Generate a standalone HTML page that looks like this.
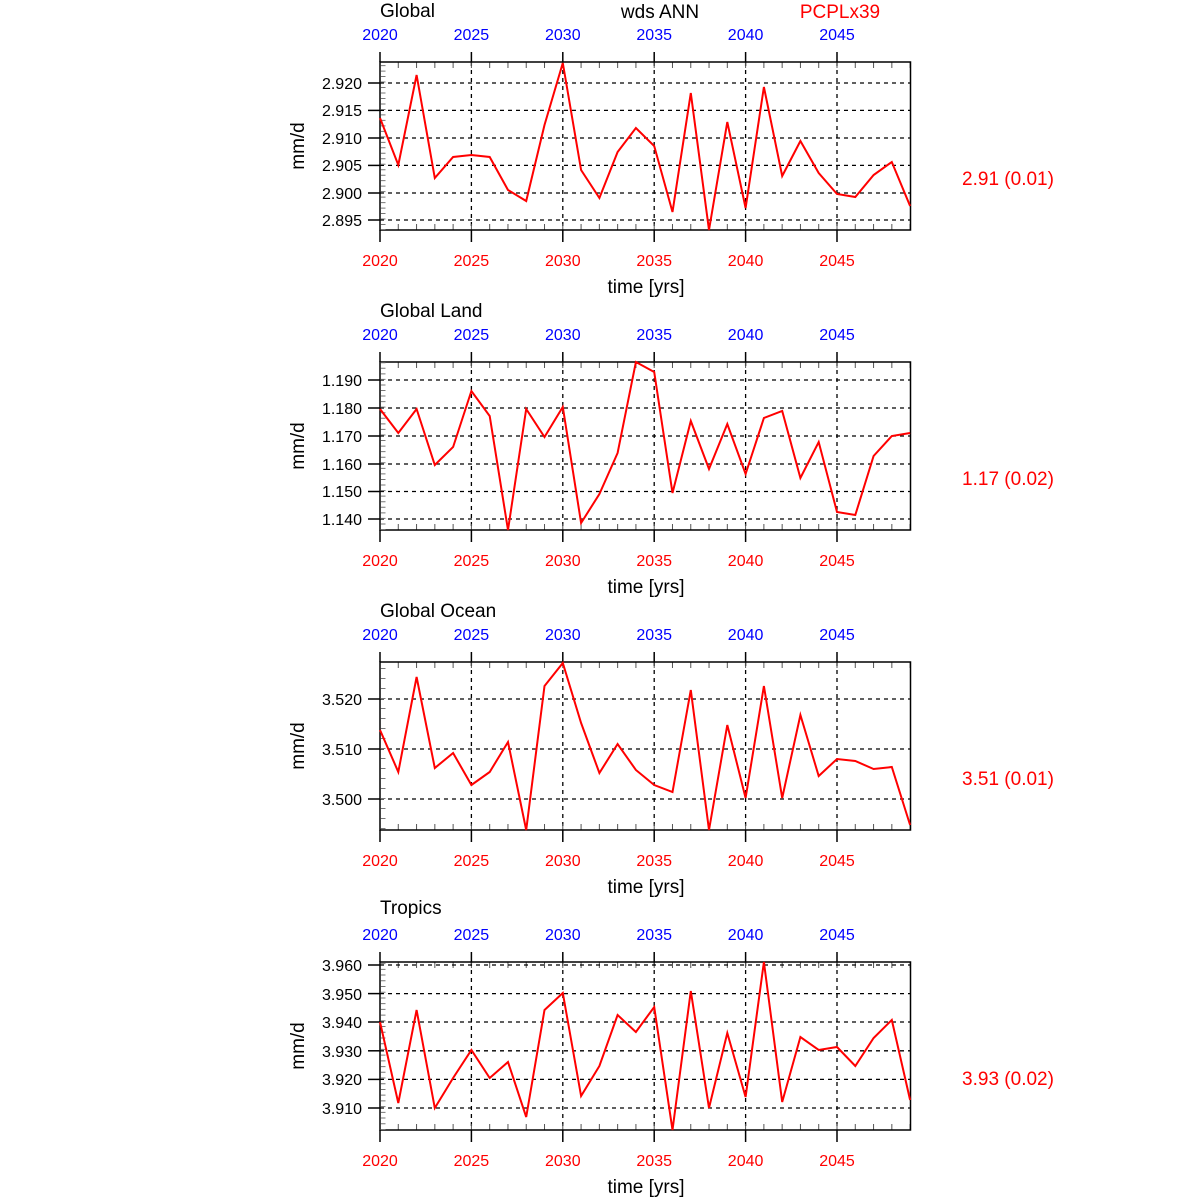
<!DOCTYPE html>
<html><head><style>body{margin:0;background:#fff}svg{display:block}text{font-family:"Liberation Sans",Arial,sans-serif}</style></head>
<body>
<svg width="1200" height="1200" viewBox="0 0 1200 1200" xmlns="http://www.w3.org/2000/svg">
<defs>
<g id="frame">
 <g stroke="#000" stroke-width="1.3" stroke-dasharray="4 4" fill="none">
  <line x1="471.4" y1="62" x2="471.4" y2="230"/><line x1="562.8" y1="62" x2="562.8" y2="230"/>
  <line x1="654.2" y1="62" x2="654.2" y2="230"/><line x1="745.6" y1="62" x2="745.6" y2="230"/>
  <line x1="837" y1="62" x2="837" y2="230"/>
 </g>
 <g stroke="#000" stroke-width="1.5">
  <line x1="380" y1="62" x2="380" y2="52"/><line x1="471.4" y1="62" x2="471.4" y2="52"/><line x1="562.8" y1="62" x2="562.8" y2="52"/><line x1="654.2" y1="62" x2="654.2" y2="52"/><line x1="745.6" y1="62" x2="745.6" y2="52"/><line x1="837" y1="62" x2="837" y2="52"/>
  <line x1="380" y1="230" x2="380" y2="242"/><line x1="471.4" y1="230" x2="471.4" y2="242"/><line x1="562.8" y1="230" x2="562.8" y2="242"/><line x1="654.2" y1="230" x2="654.2" y2="242"/><line x1="745.6" y1="230" x2="745.6" y2="242"/><line x1="837" y1="230" x2="837" y2="242"/>
 </g>
 <line x1="379.5" y1="65" x2="912" y2="65" stroke="#555" stroke-width="6" stroke-dasharray="1 17.28"/>
 <line x1="379.5" y1="227" x2="912" y2="227" stroke="#555" stroke-width="6" stroke-dasharray="1 17.28"/>
 <rect x="380" y="62" width="530.5" height="168" fill="none" stroke="#000" stroke-width="1.5"/>
</g>
</defs>
<g font-size="16" text-anchor="middle">
<text x="380" y="17" text-anchor="start" font-size="19">Global</text>
<text x="660" y="18" font-size="19">wds ANN</text>
<text x="840" y="18" font-size="19" fill="#f00">PCPLx39</text>
</g>

<g>
<use href="#frame"/>
<g stroke="#000" stroke-width="1.3" stroke-dasharray="4 4"><line x1="380" y1="83" x2="910" y2="83"/><line x1="380" y1="110.4" x2="910" y2="110.4"/><line x1="380" y1="138" x2="910" y2="138"/><line x1="380" y1="165.4" x2="910" y2="165.4"/><line x1="380" y1="193" x2="910" y2="193"/><line x1="380" y1="220" x2="910" y2="220"/></g>
<g stroke="#000" stroke-width="1.5"><line x1="368" y1="83" x2="380" y2="83"/><line x1="368" y1="110.4" x2="380" y2="110.4"/><line x1="368" y1="138" x2="380" y2="138"/><line x1="368" y1="165.4" x2="380" y2="165.4"/><line x1="368" y1="193" x2="380" y2="193"/><line x1="368" y1="220" x2="380" y2="220"/></g>
<line x1="383" y1="230" x2="383" y2="62" stroke="#777" stroke-width="5" stroke-dasharray="1 4.48" stroke-dashoffset="0.5"/>
<g font-size="16" text-anchor="end"><text x="362" y="89">2.920</text><text x="362" y="116">2.915</text><text x="362" y="144">2.910</text><text x="362" y="171">2.905</text><text x="362" y="199">2.900</text><text x="362" y="226">2.895</text></g>
<polyline fill="none" stroke="#f00" stroke-width="2" points="380,118 398.3,165 416.6,75 434.8,178 453.1,157 471.4,155 489.7,157 508,190 526.2,201 544.5,125 562.8,63 581.1,170 599.4,198 617.6,152 635.9,128 654.2,146 672.5,212 690.8,93 709,230 727.3,122 745.6,208 763.9,87 782.2,176 800.4,141 818.7,173 837,194 855.3,197 873.6,175 891.8,162 910.1,206"/>
</g>

<g transform="translate(0,300)">
<use href="#frame"/>
<g stroke="#000" stroke-width="1.3" stroke-dasharray="4 4"><line x1="380" y1="80" x2="910" y2="80"/><line x1="380" y1="108" x2="910" y2="108"/><line x1="380" y1="136" x2="910" y2="136"/><line x1="380" y1="164" x2="910" y2="164"/><line x1="380" y1="191.5" x2="910" y2="191.5"/><line x1="380" y1="219" x2="910" y2="219"/></g>
<g stroke="#000" stroke-width="1.5"><line x1="368" y1="80" x2="380" y2="80"/><line x1="368" y1="108" x2="380" y2="108"/><line x1="368" y1="136" x2="380" y2="136"/><line x1="368" y1="164" x2="380" y2="164"/><line x1="368" y1="191.5" x2="380" y2="191.5"/><line x1="368" y1="219" x2="380" y2="219"/></g>
<line x1="383" y1="230" x2="383" y2="62" stroke="#777" stroke-width="5" stroke-dasharray="1 4.56"/>
<g font-size="16" text-anchor="end"><text x="362" y="86">1.190</text><text x="362" y="114">1.180</text><text x="362" y="142">1.170</text><text x="362" y="170">1.160</text><text x="362" y="197">1.150</text><text x="362" y="225">1.140</text></g>
<polyline fill="none" stroke="#f00" stroke-width="2" transform="translate(0,-300)" points="380,409 398.3,433 416.6,409 434.8,465 453.1,447 471.4,391 489.7,416 508,530 526.2,409 544.5,437 562.8,407 581.1,523 599.4,494 617.6,453 635.9,362 654.2,372 672.5,493 690.8,421 709,469 727.3,424 745.6,474 763.9,418 782.2,411 800.4,478 818.7,442 837,512 855.3,515 873.6,456 891.8,436 910.1,433"/>
</g>

<g transform="translate(0,600)">
<use href="#frame"/>
<g stroke="#000" stroke-width="1.3" stroke-dasharray="4 4"><line x1="380" y1="99" x2="910" y2="99"/><line x1="380" y1="149" x2="910" y2="149"/><line x1="380" y1="199" x2="910" y2="199"/></g>
<g stroke="#000" stroke-width="1.5"><line x1="368" y1="99" x2="380" y2="99"/><line x1="368" y1="149" x2="380" y2="149"/><line x1="368" y1="199" x2="380" y2="199"/></g>
<line x1="383" y1="229" x2="383" y2="62" stroke="#777" stroke-width="5" stroke-dasharray="1 9"/>
<g font-size="16" text-anchor="end"><text x="362" y="105">3.520</text><text x="362" y="155">3.510</text><text x="362" y="205">3.500</text></g>
<polyline fill="none" stroke="#f00" stroke-width="2" transform="translate(0,-600)" points="380,730 398.3,772 416.6,677 434.8,768 453.1,753 471.4,785 489.7,772 508,742 526.2,830 544.5,686 562.8,663 581.1,723 599.4,773 617.6,744 635.9,770 654.2,785 672.5,792 690.8,690 709,830 727.3,725 745.6,798 763.9,686 782.2,798 800.4,715 818.7,776 837,759 855.3,761 873.6,769 891.8,767 910.1,825"/>
</g>

<g transform="translate(0,900)">
<use href="#frame"/>
<g stroke="#000" stroke-width="1.3" stroke-dasharray="4 4"><line x1="380" y1="65" x2="910" y2="65"/><line x1="380" y1="93.6" x2="910" y2="93.6"/><line x1="380" y1="122" x2="910" y2="122"/><line x1="380" y1="150.8" x2="910" y2="150.8"/><line x1="380" y1="179.4" x2="910" y2="179.4"/><line x1="380" y1="208" x2="910" y2="208"/></g>
<g stroke="#000" stroke-width="1.5"><line x1="368" y1="65" x2="380" y2="65"/><line x1="368" y1="93.6" x2="380" y2="93.6"/><line x1="368" y1="122" x2="380" y2="122"/><line x1="368" y1="150.8" x2="380" y2="150.8"/><line x1="368" y1="179.4" x2="380" y2="179.4"/><line x1="368" y1="208" x2="380" y2="208"/></g>
<line x1="383" y1="230" x2="383" y2="62" stroke="#777" stroke-width="5" stroke-dasharray="1 4.72"/>
<g font-size="16" text-anchor="end"><text x="362" y="71">3.960</text><text x="362" y="100">3.950</text><text x="362" y="128">3.940</text><text x="362" y="157">3.930</text><text x="362" y="185">3.920</text><text x="362" y="214">3.910</text></g>
<polyline fill="none" stroke="#f00" stroke-width="2" transform="translate(0,-900)" points="380,1022 398.3,1103 416.6,1010 434.8,1108 453.1,1078 471.4,1050 489.7,1078 508,1062 526.2,1117 544.5,1010 562.8,993 581.1,1096 599.4,1066 617.6,1015 635.9,1032 654.2,1007 672.5,1130 690.8,991 709,1108 727.3,1033 745.6,1097 763.9,962 782.2,1102 800.4,1037 818.7,1050 837,1047 855.3,1066 873.6,1038 891.8,1020 910.1,1100"/>
</g>

<g font-size="16" text-anchor="middle">
<g fill="#00f">
<text x="380" y="40">2020</text><text x="471.4" y="40">2025</text><text x="562.8" y="40">2030</text><text x="654.2" y="40">2035</text><text x="745.6" y="40">2040</text><text x="837" y="40">2045</text>
<text x="380" y="340">2020</text><text x="471.4" y="340">2025</text><text x="562.8" y="340">2030</text><text x="654.2" y="340">2035</text><text x="745.6" y="340">2040</text><text x="837" y="340">2045</text>
<text x="380" y="640">2020</text><text x="471.4" y="640">2025</text><text x="562.8" y="640">2030</text><text x="654.2" y="640">2035</text><text x="745.6" y="640">2040</text><text x="837" y="640">2045</text>
<text x="380" y="940">2020</text><text x="471.4" y="940">2025</text><text x="562.8" y="940">2030</text><text x="654.2" y="940">2035</text><text x="745.6" y="940">2040</text><text x="837" y="940">2045</text>
</g>
<g fill="#f00">
<text x="380" y="266">2020</text><text x="471.4" y="266">2025</text><text x="562.8" y="266">2030</text><text x="654.2" y="266">2035</text><text x="745.6" y="266">2040</text><text x="837" y="266">2045</text>
<text x="380" y="566">2020</text><text x="471.4" y="566">2025</text><text x="562.8" y="566">2030</text><text x="654.2" y="566">2035</text><text x="745.6" y="566">2040</text><text x="837" y="566">2045</text>
<text x="380" y="866">2020</text><text x="471.4" y="866">2025</text><text x="562.8" y="866">2030</text><text x="654.2" y="866">2035</text><text x="745.6" y="866">2040</text><text x="837" y="866">2045</text>
<text x="380" y="1166">2020</text><text x="471.4" y="1166">2025</text><text x="562.8" y="1166">2030</text><text x="654.2" y="1166">2035</text><text x="745.6" y="1166">2040</text><text x="837" y="1166">2045</text>
</g>
<g font-size="19">
<text x="646" y="293">time [yrs]</text><text x="646" y="593">time [yrs]</text><text x="646" y="893">time [yrs]</text><text x="646" y="1193">time [yrs]</text>
<text transform="translate(304,146) rotate(-90)">mm/d</text><text transform="translate(304,446) rotate(-90)">mm/d</text><text transform="translate(304,746) rotate(-90)">mm/d</text><text transform="translate(304,1046) rotate(-90)">mm/d</text>
</g>
<g font-size="19" text-anchor="start">
<text x="380" y="317">Global Land</text><text x="380" y="617">Global Ocean</text><text x="380" y="914">Tropics</text>
</g>
<g font-size="19" fill="#f00">
<text x="1008" y="185">2.91 (0.01)</text><text x="1008" y="485">1.17 (0.02)</text><text x="1008" y="785">3.51 (0.01)</text><text x="1008" y="1085">3.93 (0.02)</text>
</g>
</g>
</svg>
</body></html>
